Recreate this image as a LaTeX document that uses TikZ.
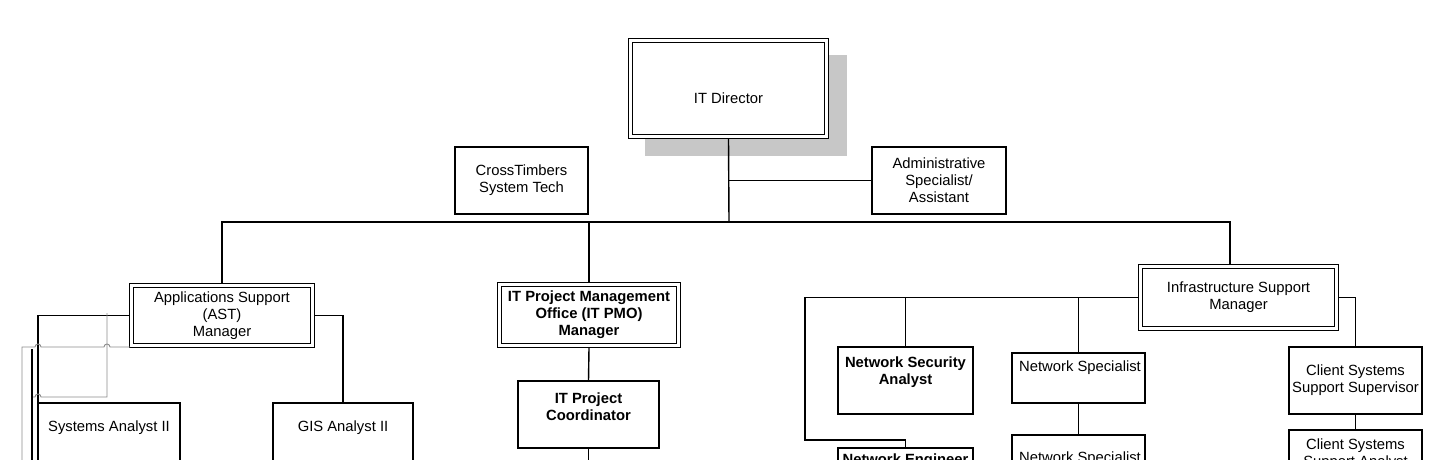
\documentclass[tikz,border=0pt]{standalone}
\usepackage{fontspec}
\setmainfont{Liberation Sans}

\begin{document}
\begin{tikzpicture}[
        x=.5pt, y=-.5pt,
        every node/.style={font=\fontsize{7.4}{8.6}\selectfont, align=center, inner sep=0pt, outer sep=0pt},
        post/.style 2 args={draw, line width=.7pt, fill=white, minimum width=#1*.5pt, minimum height=#2*.5pt},
        head/.style 2 args={post={#1}{#2}, double, double distance=1.3pt, line width=.55pt, outer sep=1.2pt},
        bold/.style={font=\fontsize{7.4}{8.6}\selectfont\bfseries},
        link/.style={line width=.7pt},
        trace/.style={line width=.45pt, draw=black!45},
    ]
    \clip (0,0) rectangle (1440,460);

    %% director with its shadow
    \fill[black!22] (645,55) rectangle (847,156);
    \node[head={196}{96}] (dir) at (728.5,88.5) {};
    \node (dirt) at (728.5,98) {IT Director};

    \node[post={133}{67}] (ctst) at (521.5,180.5) {CrossTimbers\\System Tech};
    \node[post={134}{67}] (admin) at (939,180.5) {Administrative\\Specialist/\\Assistant};

    %% managers
    \node[head={181}{60}] (ast) at (222,315.5) {Applications Support\\(AST)\\Manager};
    \node[head={179}{61}, bold] (pmo) at (589,315) {IT Project Management\\Office (IT PMO)\\Manager};
    \node[head={196}{62}] (infra) at (1238.5,297.5) {Infrastructure Support\\Manager};

    %% applications support
    \node[post={142}{100}] (sa) at (109,453) {};
    \node (sat) at (109,428) {Systems Analyst II};
    \node[post={140}{100}] (gis) at (343,453) {};
    \node (gist) at (343,428) {GIS Analyst II};

    %% project office
    \node[post={141}{67}] (coord) at (588.5,414.5) {};
    \node[bold] (coordt) at (588.5,406.5) {IT Project\\Coordinator};

    %% infrastructure
    \node[post={135}{67}] (netsec) at (905.5,380.5) {};
    \node[bold] (netsect) at (905.5,372.5) {Network Security\\Analyst};
    \node[post={135}{100}] (neteng) at (905.5,498) {};
    \node[bold] (netengt) at (905.5,461) {Network Engineer};
    \node[post={133}{50}] (netspec) at (1078.5,378) {};
    \node (netspect) at (1080,368) {Network Specialist};
    \node[post={133}{100}] (netspec2) at (1078.5,485) {};
    \node (netspec2t) at (1080,459) {Network Specialist};
    \node[post={133}{67}] (clisup) at (1355.5,380.5) {Client Systems\\Support Supervisor};
    \node[post={133}{100}] (clian) at (1355.5,480) {};
    \node (cliant) at (1355.5,454.5) {Client Systems\\Support Analyst};

    %% top level lines
    \coordinate (bus) at (729,222);
    \coordinate (busR) at (1230,222);
    \draw[link] (dir.south) -- (bus);
    \draw[link] (admin.west) -- (admin.west -| bus);
    \draw[link] (ast.north) |- (bus) -- (busR) -- (busR |- infra.north);
    \draw[link] (pmo.north) -- (pmo.north |- bus);

    \draw[link] (ast.west) -| (sa.north west);
    \draw[link] (ast.east) -| (gis.north);
    \coordinate (coordEnd) at (588.5,470);
    \draw[link] (pmo.south) -- (coord.north);
    \draw[link] (coord.south) -- (coordEnd);

    \coordinate (loopL) at (805,440);
    \draw[link] (infra.west) -| (loopL) -| (neteng.north);
    \draw[link] (netsec.north) -- (netsec.north |- infra.west);
    \draw[link] (netspec.north) -- (netspec.north |- infra.west);
    \draw[link] (netspec.south) -- (netspec2.north);
    \draw[link] (infra.east) -| (clisup.north);
    \draw[link] (clisup.south) -- (clian.north);

    %% stray lines left of the AST group, hopping over the others
    \coordinate (trA) at (130,347);
    \coordinate (trB) at (22,470);
    \coordinate (trC) at (107,313);
    \coordinate (trD) at (32,349);
    \coordinate (trE) at (32,470);
    \draw[trace] (trA) -- (110,347) arc[start angle=0, end angle=180, radius=1.5pt]
        -- (41,347) arc[start angle=0, end angle=180, radius=1.5pt] -- (22,347) -- (trB);
    \draw[trace] (trC) -- (107,397) -- (41,397) arc[start angle=0, end angle=180, radius=1.5pt] -- (32,397);
    \draw[link] (trD) -- (trE);
\end{tikzpicture}
\end{document}
